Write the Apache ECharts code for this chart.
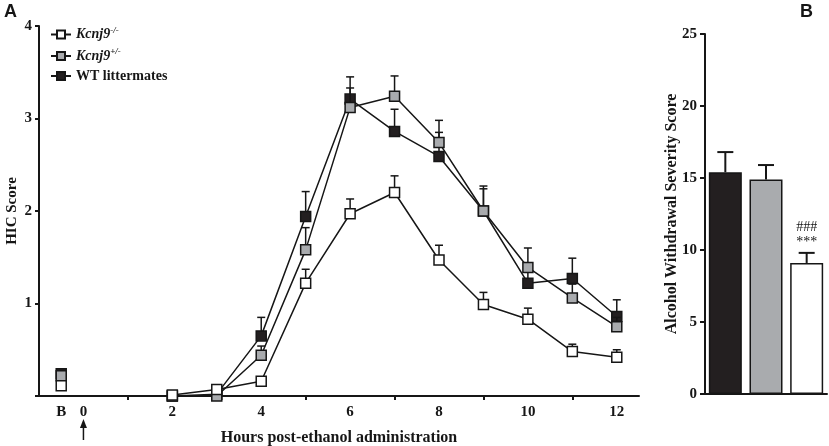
<!DOCTYPE html>
<html><head><meta charset="utf-8">
<script src="https://cdn.jsdelivr.net/npm/echarts@6/dist/echarts.min.js"></script>
<style>html,body{margin:0;padding:0;background:#fff}#c{width:829px;height:446px}</style>
</head><body><div id="c"></div>
<script>
// ---- data ----
const hours = [-0.5, 2, 3, 4, 5, 6, 7, 8, 9, 10, 11, 12];
const koMean = [0.11, 0.01, 0.07, 0.16, 1.22, 1.97, 2.20, 1.47, 0.99, 0.83, 0.48, 0.42];
const koSem  = [0.00, 0.00, 0.00, 0.03, 0.15, 0.16, 0.18, 0.16, 0.13, 0.12, 0.08, 0.08];
const hetMean = [0.22, 0.00, 0.00, 0.44, 1.58, 3.12, 3.24, 2.74, 2.00, 1.39, 1.06, 0.75];
const hetSem  = [0.03, 0.00, 0.00, 0.10, 0.24, 0.21, 0.22, 0.24, 0.27, 0.21, 0.15, 0.10];
const wtMean = [0.24, 0.00, 0.02, 0.65, 1.94, 3.21, 2.86, 2.59, 2.00, 1.22, 1.27, 0.86];
const wtSem  = [0.03, 0.00, 0.00, 0.20, 0.27, 0.24, 0.24, 0.26, 0.24, 0.15, 0.22, 0.18];
const xLabelValues = [-0.5, 0, 2, 4, 6, 8, 10, 12];
const xTickValues = [1, 3, 5, 7, 9, 11];
const yLabelValues = [1, 2, 3, 4];

const barCats = ['WT littermates', 'Kcnj9+/-', 'Kcnj9-/-'];
const barMean = [15.4, 14.9, 9.1];
const barSem  = [1.4, 1.0, 0.7];
const barSig  = ['', '', '###\n***'];

const names = { ko: 'Kcnj9-/-', het: 'Kcnj9+/-', wt: 'WT littermates' };
const fills = { ko: '#ffffff', het: '#a9abae', wt: '#231f20' };
const barFills = ['#231f20', '#a9abae', '#ffffff'];

const SERIF = '"Liberation Serif","DejaVu Serif",serif';
const INK = '#161616';

function lineData(mean) {
  const d = [[hours[0], mean[0]], [0.75, '-']];
  for (let i = 1; i < hours.length; i++) d.push([hours[i], mean[i]]);
  return d;
}
function errData(mean, sem) {
  return hours.map((h, i) => [h, mean[i], sem[i]]);
}
function errRender(params, api) {
  const sem = api.value(2);
  if (!(sem > 0)) return null;
  const x = api.value(0), m = api.value(1);
  const p0 = api.coord([x, m]);
  const p1 = api.coord([x, m + sem]);
  const st = { stroke: INK, lineWidth: 1.5 };
  return { type: 'group', children: [
    { type: 'line', shape: { x1: p0[0], y1: p0[1], x2: p1[0], y2: p1[1] }, style: st },
    { type: 'line', shape: { x1: p1[0] - 4, y1: p1[1], x2: p1[0] + 4, y2: p1[1] }, style: st }
  ]};
}
function barErrRender(params, api) {
  const i = params.dataIndex;
  const c = api.value(0), m = api.value(1), sem = api.value(2);
  const p0 = api.coord([c, m]);
  const p1 = api.coord([c, m + sem]);
  const st = { stroke: INK, lineWidth: 2 };
  const ch = [
    { type: 'line', shape: { x1: p0[0], y1: p0[1], x2: p1[0], y2: p1[1] }, style: st },
    { type: 'line', shape: { x1: p1[0] - 8, y1: p1[1], x2: p1[0] + 8, y2: p1[1] }, style: st }
  ];
  if (barSig[i]) {
    ch.push({ type: 'text', x: p1[0], y: p1[1] - 3, style: {
      text: barSig[i], fill: INK, font: '14px ' + SERIF, align: 'center', verticalAlign: 'bottom', lineHeight: 15 } });
  }
  return { type: 'group', children: ch };
}

function lineSeries(key, mean, z) {
  return {
    name: names[key], type: 'line', xAxisIndex: 0, yAxisIndex: 0, z: z,
    data: lineData(mean), connectNulls: false,
    symbol: 'rect', symbolSize: 10, showAllSymbol: true,
    lineStyle: { color: INK, width: 1.5 },
    itemStyle: { color: fills[key], borderColor: INK, borderWidth: 1.5 },
    emphasis: { disabled: true }, animation: false
  };
}
function errSeries(mean, sem, z) {
  return { type: 'custom', xAxisIndex: 0, yAxisIndex: 0, z: z, data: errData(mean, sem),
    renderItem: errRender, animation: false, silent: true };
}

const chart = echarts.init(document.getElementById('c'));
const option = {
  backgroundColor: '#fff',
  animation: false,
  grid: [
    { left: 39, right: 190, top: 26, bottom: 50, containLabel: false, outerBoundsMode: 'none' },
    { left: 705, right: 2, top: 34, bottom: 52, containLabel: false, outerBoundsMode: 'none' }
  ],
  legend: {
    data: [names.ko, names.het, names.wt],
    orient: 'vertical', left: 45, top: 21, itemWidth: 20, itemHeight: 10, itemGap: 6,
    textStyle: { fontFamily: SERIF, fontWeight: 'bold', fontSize: 14, color: INK,
      rich: {
        i: { fontFamily: SERIF, fontWeight: 'bold', fontStyle: 'italic', fontSize: 14, color: INK },
        s: { fontFamily: SERIF, fontStyle: 'italic', fontSize: 9, color: INK, padding: [0, 0, 8, 0] }
      } },
    formatter: function (n) {
      if (n === names.ko) return '{i|Kcnj9}{s|-/-}';
      if (n === names.het) return '{i|Kcnj9}{s|+/-}';
      return n;
    }
  },
  xAxis: [
    { type: 'value', gridIndex: 0, min: -1, max: 12.5, interval: 1, position: 'bottom',
      name: 'Hours post-ethanol administration', nameLocation: 'middle', nameGap: 34,
      nameTextStyle: { fontFamily: SERIF, fontWeight: 'bold', fontSize: 16, color: INK },
      axisLine: { show: true, onZero: false, lineStyle: { color: INK, width: 2 } },
      axisTick: { show: true, customValues: xTickValues, length: 4, lineStyle: { color: INK, width: 2 } },
      axisLabel: { show: true, customValues: xLabelValues, margin: 9,
        fontFamily: SERIF, fontWeight: 'bold', fontSize: 15, color: INK,
        formatter: v => (v === -0.5 ? 'B' : String(v)) },
      splitLine: { show: false } },
    { type: 'category', gridIndex: 1, data: barCats,
      axisLine: { show: true, lineStyle: { color: INK, width: 2 } },
      axisTick: { show: false }, axisLabel: { show: false } }
  ],
  yAxis: [
    { type: 'value', gridIndex: 0, min: 0, max: 4, interval: 1, position: 'left',
      name: 'HIC Score', nameLocation: 'middle', nameGap: 19, nameMoveOverlap: false,
      nameTextStyle: { fontFamily: SERIF, fontWeight: 'bold', fontSize: 15, color: INK },
      axisLine: { show: true, onZero: false, lineStyle: { color: INK, width: 2 } },
      axisTick: { show: true, length: 4, lineStyle: { color: INK, width: 2 } },
      axisLabel: { customValues: yLabelValues, margin: 7, fontFamily: SERIF, fontWeight: 'bold', fontSize: 15, color: INK },
      splitLine: { show: false } },
    { type: 'value', gridIndex: 1, min: 0, max: 25, interval: 5, position: 'left',
      name: 'Alcohol Withdrawal Severity Score', nameLocation: 'middle', nameGap: 25, nameMoveOverlap: false,
      nameTextStyle: { fontFamily: SERIF, fontWeight: 'bold', fontSize: 16, color: INK },
      axisLine: { show: true, onZero: false, lineStyle: { color: INK, width: 2 } },
      axisTick: { show: true, length: 5, lineStyle: { color: INK, width: 2 } },
      axisLabel: { margin: 8, fontFamily: SERIF, fontWeight: 'bold', fontSize: 15, color: INK },
      splitLine: { show: false } }
  ],
  series: [
    errSeries(wtMean, wtSem, 1),
    lineSeries('wt', wtMean, 2),
    errSeries(hetMean, hetSem, 3),
    lineSeries('het', hetMean, 4),
    errSeries(koMean, koSem, 5),
    lineSeries('ko', koMean, 6),
    { type: 'bar', xAxisIndex: 1, yAxisIndex: 1, barWidth: 33, z: 2,
      data: barMean.map((v, i) => ({ value: v, itemStyle: { color: barFills[i] } })),
      itemStyle: { borderColor: INK, borderWidth: 1.5 }, emphasis: { disabled: true }, animation: false },
    { type: 'custom', xAxisIndex: 1, yAxisIndex: 1, z: 1,
      data: barMean.map((v, i) => [i, v, barSem[i]]), renderItem: barErrRender, animation: false, silent: true }
  ]
};
chart.setOption(option);

const x0 = chart.convertToPixel({ xAxisIndex: 0 }, 0);
chart.setOption({
  graphic: [
    { type: 'text', left: 4, top: 3, style: { text: 'A', font: 'bold 18px "Liberation Sans",Arial,sans-serif', fill: INK } },
    { type: 'text', left: 800, top: 3, style: { text: 'B', font: 'bold 18px "Liberation Sans",Arial,sans-serif', fill: INK } },
    { type: 'line', shape: { x1: x0, y1: 425, x2: x0, y2: 440 }, style: { stroke: INK, lineWidth: 1.5 } },
    { type: 'polygon', shape: { points: [[x0, 419], [x0 - 3.5, 428], [x0 + 3.5, 428]] }, style: { fill: INK } }
  ]
});
</script></body></html>
